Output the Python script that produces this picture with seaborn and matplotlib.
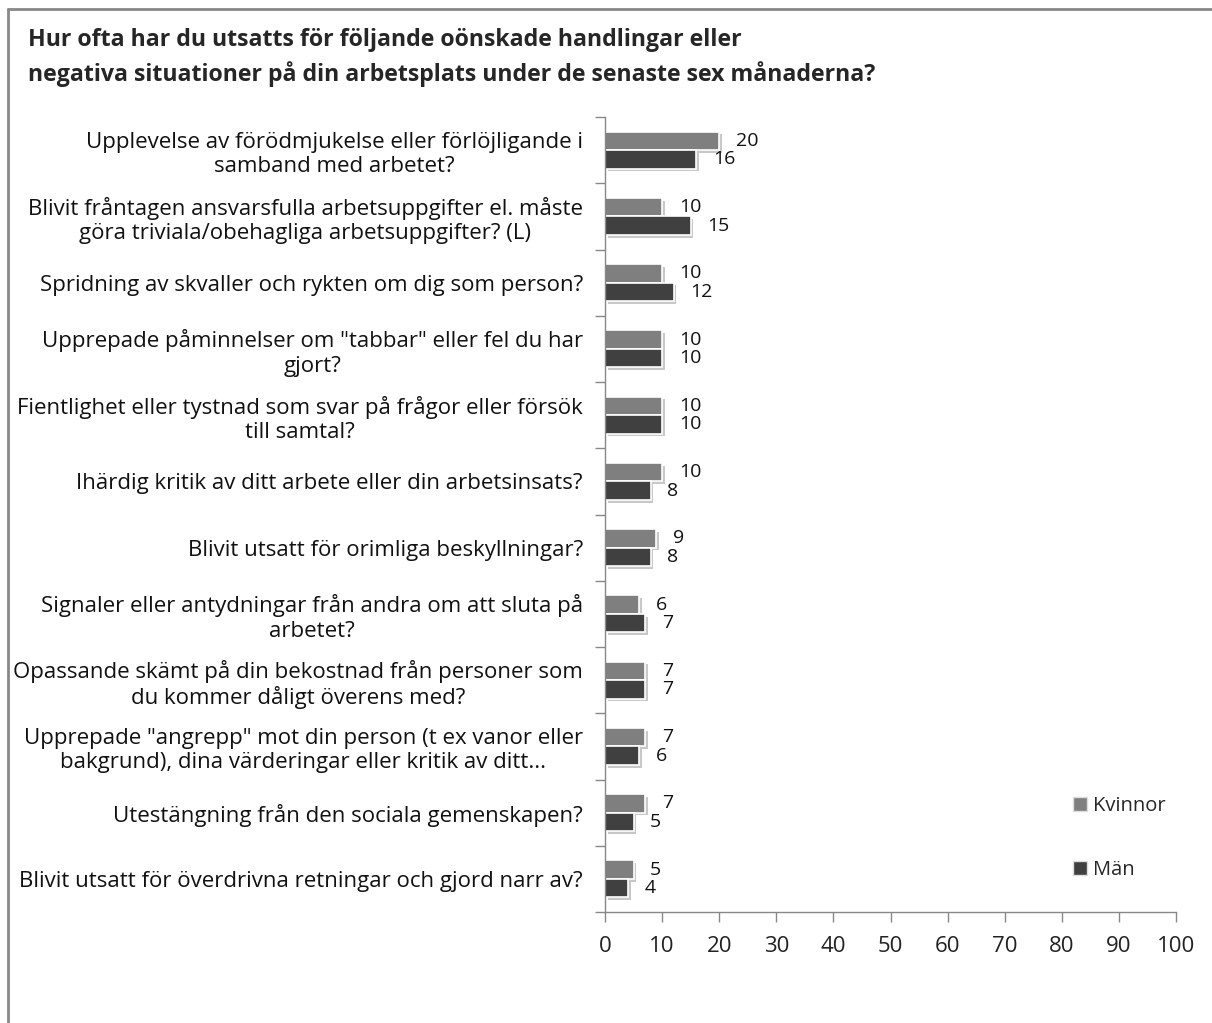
import matplotlib
import numpy as np
import pandas as pd
import seaborn as sns

matplotlib.use("Agg")
import matplotlib.pyplot as plt
import matplotlib.patheffects as pe
from matplotlib.patches import Patch

TITLE = ("Hur ofta har du utsatts för följande oönskade handlingar eller\n"
         "negativa situationer på din arbetsplats under de senaste sex månaderna?")

categories = [
    "Upplevelse av förödmjukelse eller förlöjligande i\nsamband med arbetet?",
    "Blivit fråntagen ansvarsfulla arbetsuppgifter el. måste\ngöra triviala/obehagliga arbetsuppgifter? (L)",
    "Spridning av skvaller och rykten om dig som person?",
    "Upprepade påminnelser om \"tabbar\" eller fel du har\ngjort?",
    "Fientlighet eller tystnad som svar på frågor eller försök\ntill samtal?",
    "Ihärdig kritik av ditt arbete eller din arbetsinsats?",
    "Blivit utsatt för orimliga beskyllningar?",
    "Signaler eller antydningar från andra om att sluta på\narbetet?",
    "Opassande skämt på din bekostnad från personer som\ndu kommer dåligt överens med?",
    "Upprepade \"angrepp\" mot din person (t ex vanor eller\nbakgrund), dina värderingar eller kritik av ditt...",
    "Utestängning från den sociala gemenskapen?",
    "Blivit utsatt för överdrivna retningar och gjord narr av?",
]
kvinnor = [20, 10, 10, 10, 10, 10, 9, 6, 7, 7, 7, 5]
man = [16, 15, 12, 10, 10, 8, 8, 7, 7, 6, 5, 4]
series = ["Kvinnor", "Män"]
colors = ["#7f7f7f", "#404040"]
x_ticks = list(range(0, 101, 10))

df = pd.DataFrame({
    "fraga": categories * 2,
    "grupp": [series[0]] * len(categories) + [series[1]] * len(categories),
    "andel": kvinnor + man,
})

sns.set_style("white")
plt.rcParams["font.family"] = ["Open Sans", "DejaVu Sans"]

fig = plt.figure(figsize=(12.12, 10.23), dpi=100)
ax = fig.add_axes([0.4992, 0.1085, 0.4711, 0.7771])

sns.barplot(data=df, y="fraga", x="andel", hue="grupp", order=categories,
            hue_order=series, palette=colors, orient="h", width=0.56,
            edgecolor="white", linewidth=1.2, legend=False, ax=ax)

shadow = [pe.SimplePatchShadow(offset=(2, -2), shadow_rgbFace="#c8c8c8", alpha=1),
          pe.Normal()]
for bar in ax.patches:
    bar.set_path_effects(shadow)

for cont in ax.containers:
    ax.bar_label(cont, labels=[f"{v:g}" for v in cont.datavalues],
                 padding=12, fontsize=14, color="#111111")

ax.set_xlim(0, 100)
ax.set_xticks(x_ticks)
ax.set_xlabel("")
ax.set_ylabel("")
ax.tick_params(axis="x", labelsize=16, length=7, width=1, color="#888888",
               direction="out", bottom=True, pad=10, labelcolor="#222222")
ax.set_yticks(range(len(categories)))
ax.set_yticklabels(categories, fontsize=16, multialignment="center",
                   color="#111111", linespacing=1.2)
ax.tick_params(axis="y", which="major", length=0, pad=16)
ax.set_yticks(np.arange(-0.5, len(categories), 1), minor=True)
ax.tick_params(axis="y", which="minor", length=7, width=1, color="#888888",
               direction="out", left=True)
ax.set_ylim(len(categories) - 0.5, -0.5)

for side in ["top", "right"]:
    ax.spines[side].set_visible(False)
for side in ["left", "bottom"]:
    ax.spines[side].set_color("#888888")
    ax.spines[side].set_linewidth(1)

handles = [Patch(facecolor=c, edgecolor="#dddddd") for c in colors]
fig.legend(handles, series, loc="upper left", bbox_to_anchor=(0.87, 0.24),
           frameon=False, fontsize=14.5, labelspacing=2.2, handlelength=0.7,
           handleheight=0.7, handletextpad=0.3)

fig.text(0.023, 0.973, TITLE, fontsize=16.7, fontweight="bold",
         ha="left", va="top", linespacing=1.5)

# chart-area frame (clipped at right and bottom in the reference)
fig.add_artist(plt.Line2D([0.0063, 0.0063], [0, 0.9912], transform=fig.transFigure,
                          color="#888888", linewidth=2))
fig.add_artist(plt.Line2D([0.0063, 1], [0.9912, 0.9912], transform=fig.transFigure,
                          color="#888888", linewidth=2))

fig.savefig("out.png", dpi=100)
plt.close(fig)
